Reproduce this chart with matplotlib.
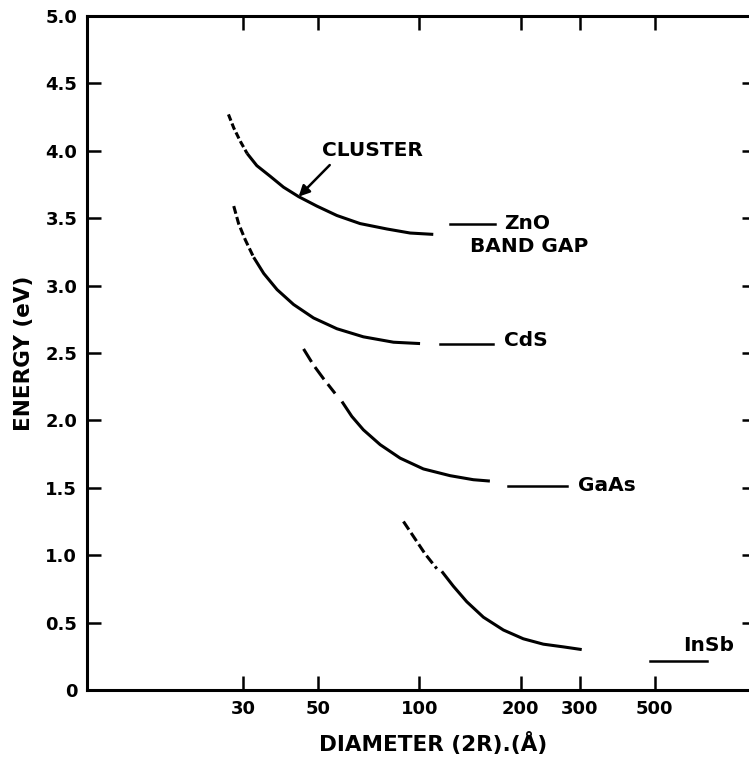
import matplotlib
matplotlib.use('Agg')
import matplotlib.pyplot as plt

# quantum-size curves: dashed (extrapolated) start + solid part, diameter in Å, energy in eV
zno_dash_d = [27.1, 28.1, 29.4, 30.8]
zno_dash_e = [4.27, 4.17, 4.07, 3.98]
zno_d = [30.8, 32.9, 36.1, 39.5, 43.8, 49.6, 56.9, 66.7, 80.1, 93.9, 110]
zno_e = [3.98, 3.89, 3.81, 3.73, 3.66, 3.59, 3.52, 3.46, 3.42, 3.39, 3.38]

cds_dash_d = [28.1, 29.05, 30.4, 32.2]
cds_dash_e = [3.59, 3.46, 3.34, 3.21]
cds_d = [32.2, 34.5, 37.8, 42.3, 48.5, 56.9, 68.2, 83.8, 100.5]
cds_e = [3.21, 3.09, 2.97, 2.86, 2.76, 2.68, 2.62, 2.58, 2.57]

gaas_dash_d = [45.3, 48.5, 51.9, 56.2]
gaas_dash_e = [2.53, 2.41, 2.31, 2.20]
gaas_d = [58.9, 63.0, 68.2, 76.5, 87.7, 102.8, 123.4, 144.7, 162]
gaas_e = [2.14, 2.03, 1.93, 1.82, 1.72, 1.64, 1.59, 1.56, 1.55]

insb_dash_d = [89.7, 96.0, 104, 112.7]
insb_dash_e = [1.25, 1.14, 1.01, 0.90]
insb_d = [116.6, 126.2, 138.3, 155, 177.7, 203.6, 233.5, 267.6, 303.6]
insb_e = [0.88, 0.77, 0.655, 0.54, 0.445, 0.38, 0.34, 0.32, 0.30]

# bulk band gaps (short horizontal bars)
bulk_names = ['ZnO', 'CdS', 'GaAs', 'InSb']
bulk_from = [123, 115, 184, 484]
bulk_to = [168, 166, 275, 713]
bulk_gap = [3.46, 2.57, 1.51, 0.215]

x_ticks = [30, 50, 100, 200, 300, 500]
y_ticks = [0, 0.5, 1.0, 1.5, 2.0, 2.5, 3.0, 3.5, 4.0, 4.5, 5.0]
y_tick_labels = ['0', '0.5', '1.0', '1.5', '2.0', '2.5', '3.0', '3.5', '4.0', '4.5', '5.0']

font = dict(family='DejaVu Sans', weight='bold', size=14.5)

fig = plt.figure(figsize=(7.49, 7.62), dpi=100)
ax = fig.add_axes([87/749, 72/762, 669/749, 674/762])

ax.set_xscale('log')
ax.set_xlim(10.3, 1000)
ax.set_ylim(0, 5)

curves = [(zno_dash_d, zno_dash_e, zno_d, zno_e, (2.2, 1.0)),
          (cds_dash_d, cds_dash_e, cds_d, cds_e, (2.6, 1.1)),
          (gaas_dash_d, gaas_dash_e, gaas_d, gaas_e, (5.0, 2.0)),
          (insb_dash_d, insb_dash_e, insb_d, insb_e, (3.2, 1.3))]
for dd, de, sd, se, pat in curves:
    ax.plot(dd, de, color='black', lw=2.2, linestyle=(0, pat),
            dash_capstyle='butt', solid_joinstyle='round')
    ax.plot(sd, se, color='black', lw=2.2, solid_capstyle='butt',
            solid_joinstyle='round')

for x0, x1, e in zip(bulk_from, bulk_to, bulk_gap):
    ax.plot([x0, x1], [e, e], color='black', lw=1.8)

# labels next to the bulk bars
ax.text(178, 3.46, 'ZnO', va='center', ha='left', **font)
ax.text(141, 3.29, 'BAND GAP', va='center', ha='left', **font)
ax.text(178, 2.59, 'CdS', va='center', ha='left', **font)
ax.text(295, 1.52, 'GaAs', va='center', ha='left', **font)
ax.text(606, 0.33, 'InSb', va='center', ha='left', **font)

ax.annotate('CLUSTER', xy=(43.8, 3.66), xytext=(51.5, 4.0),
            va='center', ha='left', **font,
            arrowprops=dict(arrowstyle='-|>', color='black', lw=1.8,
                            mutation_scale=16, shrinkA=2, shrinkB=0,
                            relpos=(0.12, 0.0)))

ax.xaxis.set_major_locator(matplotlib.ticker.FixedLocator(x_ticks))
ax.xaxis.set_minor_locator(matplotlib.ticker.NullLocator())
ax.set_xticklabels([str(v) for v in x_ticks])
ax.set_yticks(y_ticks)
ax.set_yticklabels(y_tick_labels)

ax.tick_params(axis='both', which='major', direction='in', length=10, width=1.8,
               top=True, right=True, labelsize=13, pad=7)
for lab in ax.get_xticklabels() + ax.get_yticklabels():
    lab.set_fontweight('bold')

for side in ['left', 'bottom', 'top', 'right']:
    ax.spines[side].set_linewidth(2.2)

ax.set_xlabel('DIAMETER (2R).(Å)', fontdict=dict(font, size=15.5))
ax.xaxis.set_label_coords(0.517, -0.062)
ax.set_ylabel('ENERGY (eV)', fontdict=dict(font, size=15.5), labelpad=8)

fig.savefig('out.png', dpi=100)
